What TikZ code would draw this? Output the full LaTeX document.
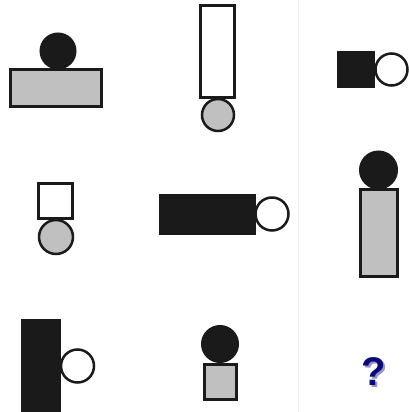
\documentclass[tikz,border=0pt]{standalone}
\usepackage{fontspec}
\setmainfont{Liberation Sans}
\definecolor{fillgrey}{RGB}{192,192,192}
\definecolor{ink}{RGB}{26,26,26}
\definecolor{navy}{RGB}{10,10,120}
\definecolor{navyshadow}{RGB}{150,150,200}
\begin{document}
\begin{tikzpicture}[x=1pt,y=-1pt,
  outl/.style={draw=ink,line width=3pt},
  greybox/.style={outl,fill=fillgrey},
  whitebox/.style={outl,fill=white},
  blackbox/.style={draw=ink,line width=1pt,fill=ink},
  greydisc/.style={draw=ink,line width=2.5pt,fill=fillgrey},
  whitedisc/.style={draw=ink,line width=2.5pt,fill=white},
  blackdisc/.style={draw=ink,line width=1pt,fill=ink}]
\useasboundingbox (0,0) rectangle (409,412);
\fill[white] (0,0) rectangle (409,412);
\draw[gray!10,line width=0.6pt] (298,0) -- (298,412);
% cell 1
\fill[blackdisc] (58,51) circle (18);
\draw[greybox] (10.5,69.5) rectangle (101.5,106.5);
% cell 2
\draw[greydisc] (218,115) circle (16);
\draw[whitebox] (200.5,5.5) rectangle (234.5,97.5);
% cell 3
\draw[blackbox] (337.5,51.5) rectangle (374.5,87.5);
\draw[whitedisc] (391.5,69.5) circle (16);
% cell 4
\draw[greydisc] (56,237) circle (17);
\draw[whitebox] (38.5,183.5) rectangle (72.5,218.5);
% cell 5
\draw[blackbox] (159.5,194.5) rectangle (255.5,234.5);
\draw[whitedisc] (272,214) circle (16.5);
% cell 6
\fill[blackdisc] (378.5,170) circle (19);
\draw[greybox] (360.5,189.5) rectangle (397.5,276.5);
% cell 7
\draw[blackbox] (21.5,319.5) rectangle (60.5,413);
\draw[whitedisc] (77.5,366) circle (16.5);
% cell 8
\fill[blackdisc] (220,344) circle (18.5);
\draw[greybox] (204.5,364.5) rectangle (236.5,399.5);
% cell 9
\node[text=navyshadow,font=\bfseries\fontsize{40}{40}\selectfont,inner sep=0] at (375.5,373.5) {?};
\node (q) [text=navy,font=\bfseries\fontsize{40}{40}\selectfont,inner sep=0] at (374,372) {?};
\end{tikzpicture}
\end{document}
